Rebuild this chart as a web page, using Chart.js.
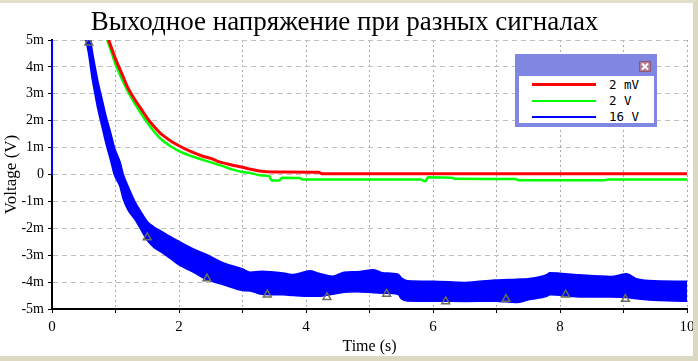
<!DOCTYPE html>
<html>
<head>
<meta charset="utf-8">
<title>Выходное напряжение при разных сигналах</title>
<script src="https://cdn.jsdelivr.net/npm/chart.js@4.4.0/dist/chart.umd.min.js"></script>
<style>
  html, body { margin: 0; padding: 0; background: #fff; }
  #frame {
    position: relative; width: 698px; height: 361px; box-sizing: border-box;
    border-top: 3px solid #e2dfcc; border-right: 5px solid #dcd8c2; border-bottom: 5px solid #dcd8c2;
    overflow: hidden;
  }
  #chart { display: block; }
  #legend {
    position: absolute; left: 515px; top: 51px; width: 142px; height: 73px;
    box-sizing: border-box; background: #7f87e3; padding: 22px 3px 4px 4px;
  }
  #legend .close {
    position: absolute; left: 124px; top: 7px; width: 12px; height: 11px;
    background: #b57d93; box-sizing: border-box; border: 1px solid #8c5a70;
  }
  #legend .close svg { display: block; }
  #legend .body { background: #fff; height: 100%; }
  #legend .row { display: flex; align-items: center; height: 16.4px; }
  #legend .swatch { margin-left: 13px; width: 64px; }
  #legend .name {
    margin-left: 13px; font: 12.5px "DejaVu Sans Mono", "Liberation Mono", monospace; color: #000;
    white-space: pre;
  }
</style>
</head>
<body>
<div id="frame">
  <canvas id="chart" width="693" height="353"></canvas>
  <div id="legend">
    <div class="close">
      <svg width="10" height="9" viewBox="0 0 10 9"><path d="M2 1.5 L8 7.5 M8 1.5 L2 7.5" stroke="#fff" stroke-width="1.8"/></svg>
    </div>
    <div class="body" id="legendBody"></div>
  </div>
</div>
<script>
  // series names / colours
  var seriesLabels = ['2 mV', '2 V', '16 V'];
  var seriesColors = ['#ff0000', '#00ff00', '#0000ff'];

  // 2 mV (values in mV)
  var redTime   = [0.85, 0.9, 1.0, 1.1, 1.2, 1.3, 1.4, 1.5, 1.6, 1.7, 1.8, 1.9, 2.0, 2.2, 2.4, 2.5, 2.6, 2.8, 3.0, 3.1, 3.26, 3.5, 4.2, 4.25, 10];
  var redValues = [5.3, 4.95, 4.3, 3.75, 3.2, 2.8, 2.45, 2.1, 1.8, 1.55, 1.36, 1.2, 1.07, 0.84, 0.66, 0.6, 0.5, 0.37, 0.27, 0.21, 0.13, 0.09, 0.08, 0.03, 0.03];

  // 2 V
  var greenTime   = [0.83, 0.87, 0.9, 1.0, 1.1, 1.19, 1.3, 1.45, 1.6, 1.71, 1.85, 2.0, 2.2, 2.49, 2.7, 2.85, 3.0, 3.12, 3.3, 3.42, 3.46, 3.58, 3.62, 3.9, 3.95, 5.8, 5.88, 5.92, 6.3, 6.35, 7.3, 7.35, 8.7, 8.75, 10];
  var greenValues = [5.3, 5.0, 4.8, 4.1, 3.55, 3.12, 2.65, 2.1, 1.62, 1.33, 1.08, 0.87, 0.68, 0.46, 0.3, 0.18, 0.09, 0.06, -0.04, -0.06, -0.22, -0.22, -0.12, -0.13, -0.19, -0.19, -0.25, -0.1, -0.12, -0.16, -0.17, -0.21, -0.21, -0.19, -0.19];

  // 16 V: noisy band, read as upper / lower edge
  var blueTime  = [0, 0.002, 0.5, 0.575, 0.63, 0.68, 0.725, 0.79, 0.855, 0.92, 0.98, 1.07, 1.12, 1.2, 1.3, 1.4, 1.5, 1.6, 1.71, 1.85, 2.0, 2.2, 2.44, 2.7, 3.0, 3.12, 3.3, 3.64, 3.8, 4.06, 4.2, 4.42, 4.6, 4.8, 5.07, 5.2, 5.45, 5.5, 5.6, 6.0, 6.5, 6.97, 7.32, 7.5, 7.8, 7.84, 8.3, 8.8, 9.05, 9.2, 9.4, 10];
  var blueUpper = [0, 8, 6.3, 5.5, 4.6, 3.95, 3.4, 2.75, 2.1, 1.55, 1.0, 0.45, 0.0, -0.47, -1.0, -1.4, -1.76, -1.95, -2.1, -2.3, -2.5, -2.75, -2.99, -3.3, -3.52, -3.64, -3.61, -3.67, -3.73, -3.59, -3.68, -3.79, -3.64, -3.62, -3.55, -3.66, -3.72, -3.85, -3.96, -3.98, -4.02, -3.93, -3.9, -3.88, -3.72, -3.66, -3.74, -3.8, -3.7, -3.88, -3.95, -3.98];
  var blueLower = [0, 8, 5.3, 4.5, 3.6, 2.95, 2.4, 1.75, 1.1, 0.55, 0.0, -0.45, -0.9, -1.33, -1.65, -2.05, -2.45, -2.7, -2.87, -3.1, -3.36, -3.6, -3.91, -4.1, -4.31, -4.33, -4.45, -4.47, -4.5, -4.53, -4.53, -4.45, -4.38, -4.36, -4.4, -4.41, -4.45, -4.62, -4.7, -4.71, -4.72, -4.71, -4.76, -4.66, -4.52, -4.47, -4.55, -4.55, -4.57, -4.62, -4.67, -4.71];

  // triangle markers on the 16 V trace
  var markerTime   = [0.58, 1.5, 2.44, 3.39, 4.33, 5.27, 6.2, 7.15, 8.09, 9.03];
  var markerValues = [4.9, -2.34, -3.87, -4.47, -4.56, -4.44, -4.72, -4.63, -4.47, -4.63];

  function toPoints(xs, ys) {
    var pts = [];
    for (var i = 0; i < xs.length; i++) pts.push({ x: xs[i], y: ys[i] });
    return pts;
  }

  function buildLegend() {
    var body = document.getElementById('legendBody');
    for (var i = 0; i < seriesLabels.length; i++) {
      var row = document.createElement('div');
      row.className = 'row';
      var sw = document.createElement('div');
      sw.className = 'swatch';
      sw.style.borderTop = (i === 0 ? 3 : 2) + 'px solid ' + seriesColors[i];
      var name = document.createElement('span');
      name.className = 'name';
      name.textContent = seriesLabels[i];
      row.appendChild(sw);
      row.appendChild(name);
      body.appendChild(row);
    }
  }

  var serif = "'Liberation Serif', 'Times New Roman', serif";

  var data = {
    datasets: [
      {
        label: seriesLabels[0], data: toPoints(redTime, redValues),
        borderColor: seriesColors[0], borderWidth: 3, pointRadius: 0,
        cubicInterpolationMode: 'monotone', fill: false, order: 1
      },
      {
        label: seriesLabels[1], data: toPoints(greenTime, greenValues),
        borderColor: seriesColors[1], borderWidth: 2.5, pointRadius: 0,
        cubicInterpolationMode: 'monotone', fill: false, order: 2
      },
      {
        label: seriesLabels[2], data: toPoints(blueTime, blueUpper),
        borderColor: seriesColors[2], borderWidth: 2, pointRadius: 0,
        clip: { left: 3, top: 0, right: 0, bottom: 0 },
        cubicInterpolationMode: 'monotone', fill: false, order: 3
      },
      {
        label: seriesLabels[2] + ' low', data: toPoints(blueTime, blueLower),
        borderColor: seriesColors[2], backgroundColor: seriesColors[2], borderWidth: 1.5, pointRadius: 0,
        cubicInterpolationMode: 'monotone', fill: '-1', order: 3
      },
      {
        label: 'markers', data: toPoints(markerTime, markerValues), showLine: false,
        pointStyle: 'triangle', pointRadius: 4.5, borderWidth: 1.5,
        pointBorderColor: '#6b6b5a', pointBackgroundColor: 'rgba(0,0,0,0)', order: 0
      }
    ]
  };

  var options = {
    animation: false,
    responsive: false,
    devicePixelRatio: 1,
    layout: { padding: { left: 0, right: 4, top: 0, bottom: 0 } },
    plugins: {
      legend: { display: false },
      tooltip: { enabled: false },
      title: {
        display: true,
        text: 'Выходное напряжение при разных сигналах',
        color: '#000',
        font: { family: serif, size: 27, weight: 'normal', lineHeight: 1.2 },
        padding: { top: 3.5, bottom: 1.1 }
      }
    },
    scales: {
      x: {
        type: 'linear', min: 0, max: 10,
        afterFit: function (s) { s.height = 47; s.paddingRight = 4; s.paddingLeft = 0; },
        ticks: {
          stepSize: 1, padding: 5, color: '#000', maxRotation: 0, autoSkip: false,
          font: { family: serif, size: 15 },
          callback: function (v) { return v % 2 === 0 ? String(v) : ''; }
        },
        grid: { color: '#a8a8a8', tickColor: '#000', tickLength: 4 },
        border: { color: '#000', width: 2, dash: [2, 3] },
        title: {
          display: true, text: 'Time (s)', color: '#000',
          font: { family: serif, size: 16, lineHeight: 1.2 }, padding: { top: 0, bottom: 0 }
        }
      },
      y: {
        min: -5, max: 5,
        afterFit: function (s) { s.width = 52; },
        ticks: {
          stepSize: 1, padding: 4, color: '#000',
          font: { family: serif, size: 14 },
          callback: function (v) { return v === 0 ? '0' : v + 'm'; }
        },
        grid: { color: '#c0c0c0', tickColor: '#000', tickLength: 4 },
        border: { color: '#000', width: 2, dash: [5, 4] },
        title: {
          display: true, text: 'Voltage (V)', color: '#000',
          font: { family: serif, size: 17, lineHeight: 1.2 }, padding: { top: 1, bottom: 0 }
        }
      }
    }
  };

  buildLegend();
  var chart = new Chart(document.getElementById('chart'), { type: 'line', data: data, options: options });
</script>
</body>
</html>
